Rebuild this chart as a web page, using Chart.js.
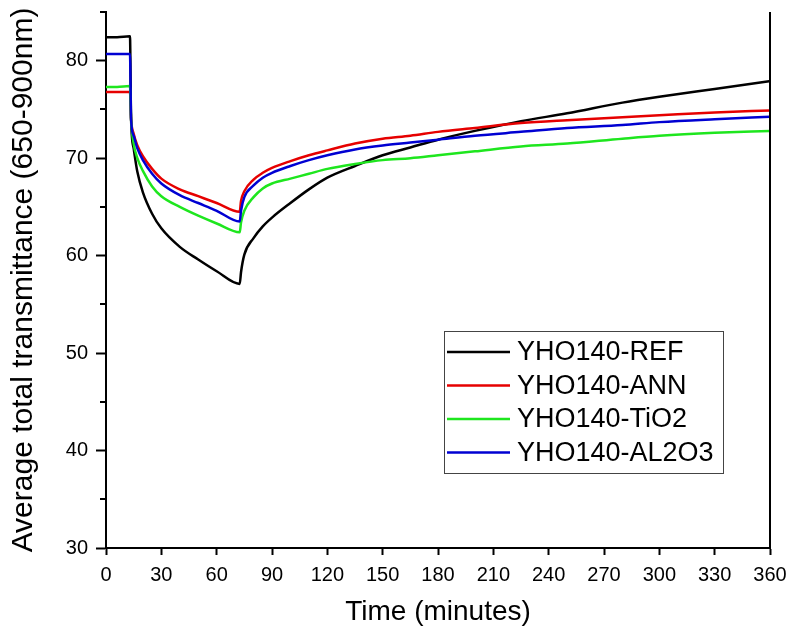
<!DOCTYPE html>
<html>
<head>
<meta charset="utf-8">
<script src="https://cdn.jsdelivr.net/npm/chart.js@4.4.1/dist/chart.umd.min.js"></script>
<style>
  html, body { margin: 0; padding: 0; background: #fff; }
  #wrap { width: 791px; height: 634px; }
</style>
</head>
<body>
<div id="wrap"><canvas id="chart" width="791" height="634"></canvas></div>
<script>
// time in minutes, shared by all four samples
const time  = [0, 6, 13, 13.6, 15, 17, 20, 25, 30, 40, 50, 60, 72.5, 73.2, 75, 80, 85, 90, 100, 110, 120, 135, 150, 165, 180, 200, 225, 250, 280, 300, 330, 360];
const ref   = [82.4, 82.4, 82.5, 74.0, 71.0, 68.6, 66.5, 64.3, 62.8, 60.9, 59.6, 58.4, 57.1, 58.3, 60.1, 61.8, 63.0, 63.9, 65.4, 66.8, 68.0, 69.2, 70.3, 71.1, 71.9, 72.8, 73.8, 74.6, 75.7, 76.3, 77.1, 77.9];
const ann   = [76.8, 76.8, 76.8, 74.0, 72.5, 71.3, 70.2, 68.9, 67.9, 66.8, 66.1, 65.4, 64.5, 65.6, 66.6, 67.8, 68.5, 69.0, 69.7, 70.3, 70.8, 71.5, 72.0, 72.3, 72.7, 73.1, 73.6, 73.9, 74.2, 74.4, 74.7, 74.9];
const tio2  = [77.3, 77.3, 77.4, 74.0, 71.5, 70.0, 68.7, 67.1, 66.1, 65.0, 64.1, 63.3, 62.4, 63.4, 64.6, 66.0, 66.9, 67.4, 67.9, 68.4, 68.9, 69.4, 69.8, 70.0, 70.3, 70.7, 71.2, 71.5, 72.0, 72.3, 72.6, 72.8];
const al2o3 = [80.7, 80.7, 80.7, 74.0, 72.3, 71.0, 69.8, 68.4, 67.4, 66.2, 65.4, 64.6, 63.5, 64.6, 66.0, 67.2, 68.0, 68.5, 69.2, 69.8, 70.3, 70.9, 71.3, 71.6, 71.9, 72.3, 72.7, 73.1, 73.4, 73.7, 74.0, 74.25];

const labels = ['YHO140-REF', 'YHO140-ANN', 'YHO140-TiO2', 'YHO140-AL2O3'];
const colors = ['#000000', '#e60000', '#1ee61e', '#0000d2'];
const yTicks = [30, 40, 50, 60, 70, 80];

const FONT = "Arial, 'Liberation Sans', sans-serif";

function points(values) {
  return values.map((v, i) => ({ x: time[i], y: v }));
}

// fixed axis box sizes, no extra label padding
function fixSize(prop, size) {
  return function (scale) {
    scale[prop] = size;
    scale.paddingTop = scale.paddingBottom = 0;
    scale.paddingLeft = scale.paddingRight = 0;
  };
}

// minor ticks on the y axis, right-hand frame line, boxed legend
const extras = {
  id: 'extras',
  afterDatasetsDraw(chart) {
    const ctx = chart.ctx;
    const area = chart.chartArea;
    const y = chart.scales.y;
    ctx.save();
    ctx.strokeStyle = '#000';
    ctx.lineWidth = 2;
    for (let v = 35; v <= 85; v += 10) {
      const py = Math.round(y.getPixelForValue(v));
      ctx.beginPath();
      ctx.moveTo(area.left - 6, py);
      ctx.lineTo(area.left, py);
      ctx.stroke();
    }
    ctx.beginPath();
    ctx.moveTo(area.right, area.top);
    ctx.lineTo(area.right, area.bottom + 1);
    ctx.stroke();

    // legend box
    const bx = area.left + 338, by = area.top + 319, bw = 279, bh = 142;
    ctx.fillStyle = '#fff';
    ctx.fillRect(bx, by, bw, bh);
    ctx.lineWidth = 1;
    ctx.strokeStyle = '#444';
    ctx.strokeRect(bx + 0.5, by + 0.5, bw, bh);
    ctx.font = '27px ' + FONT;
    ctx.textBaseline = 'middle';
    chart.data.datasets.forEach((ds, i) => {
      const ry = by + 21 + i * 33.5;
      ctx.strokeStyle = ds.borderColor;
      ctx.lineWidth = 2.5;
      ctx.beginPath();
      ctx.moveTo(bx + 3, ry);
      ctx.lineTo(bx + 66, ry);
      ctx.stroke();
      ctx.fillStyle = '#000';
      ctx.fillText(ds.label, bx + 73, ry + 1);
    });
    ctx.restore();
  }
};

new Chart(document.getElementById('chart'), {
  type: 'line',
  data: {
    datasets: [ref, ann, tio2, al2o3].map((values, i) => ({
      label: labels[i],
      data: points(values),
      borderColor: colors[i],
      borderWidth: 2.5,
      pointRadius: 0,
      cubicInterpolationMode: 'monotone',
      order: 3 - i
    }))
  },
  options: {
    responsive: false,
    animation: false,
    layout: { padding: { top: 12, right: 21, left: 0, bottom: 0 } },
    plugins: {
      legend: { display: false },
      tooltip: { enabled: false }
    },
    scales: {
      x: {
        type: 'linear',
        min: 0,
        max: 360,
        afterFit: fixSize('height', 86),
        ticks: { stepSize: 30, color: '#000', padding: 8, font: { size: 20, family: FONT } },
        grid: { drawOnChartArea: false, tickLength: 7, tickColor: '#000', tickWidth: 2 },
        border: { color: '#000', width: 2 },
        title: {
          display: true,
          text: 'Time (minutes)',
          color: '#000',
          font: { size: 28, family: FONT },
          padding: { top: 0, bottom: 5 }
        }
      },
      y: {
        min: 30,
        max: 85,
        afterFit: fixSize('width', 106),
        afterBuildTicks(scale) { scale.ticks = yTicks.map(v => ({ value: v })); },
        ticks: { color: '#000', padding: 8, font: { size: 20, family: FONT } },
        grid: { drawOnChartArea: false, tickLength: 10, tickColor: '#000', tickWidth: 2 },
        border: { color: '#000', width: 2 },
        title: {
          display: true,
          text: 'Average total transmittance (650-900nm)',
          color: '#000',
          font: { size: 30, family: FONT },
          padding: { top: 6, bottom: 0 }
        }
      }
    }
  },
  plugins: [extras]
});
</script>
</body>
</html>
